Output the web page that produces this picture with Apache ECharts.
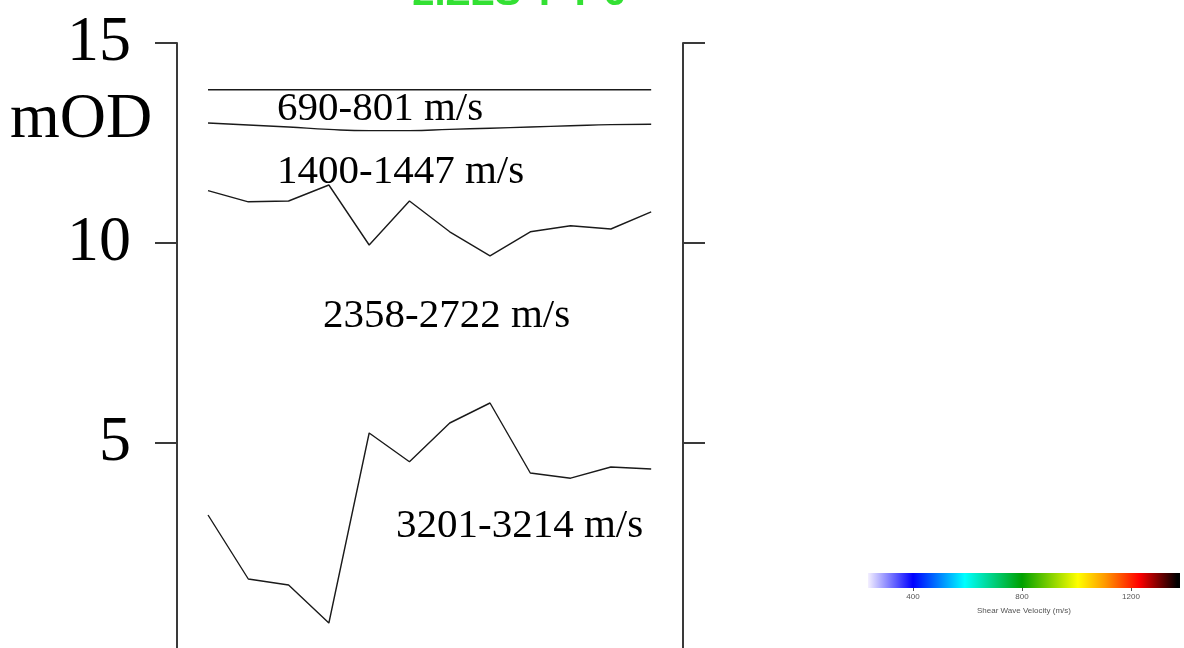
<!DOCTYPE html>
<html>
<head>
<meta charset="utf-8">
<script src="https://cdn.jsdelivr.net/npm/echarts@6/dist/echarts.min.js"></script>
<style>
html,body{margin:0;padding:0;background:#fff;}
#c{width:1184px;height:648px;}
</style>
</head>
<body>
<div id="c"></div>
<script>
// ---- data ----
var stations = [1, 2, 3, 4, 5, 6, 7, 8, 9, 10, 11, 12];
var boundary1 = [13.83, 13.83, 13.83, 13.83, 13.83, 13.83, 13.83, 13.83, 13.83, 13.83, 13.83, 13.83];
var boundary2 = [13.0, 12.95, 12.9, 12.84, 12.81, 12.81, 12.84, 12.87, 12.9, 12.93, 12.96, 12.97];
var boundary3 = [11.31, 11.03, 11.05, 11.45, 9.95, 11.05, 10.28, 9.68, 10.28, 10.43, 10.35, 10.78];
var boundary4 = [3.2, 1.6, 1.45, 0.5, 5.25, 4.53, 5.5, 6.0, 4.25, 4.12, 4.4, 4.35];
var elevTicks = [5, 10, 15];
var elevUnit = 'mOD';
var layerLabels = ['690-801 m/s', '1400-1447 m/s', '2358-2722 m/s', '3201-3214 m/s'];
var titleText = '2.ZLS T T 6';
var cbValues = [235, 400, 590, 800, 1005, 1105, 1230, 1370, 1380];
var cbColors = ['#f4f0ff', '#0000ff', '#00ffff', '#00a000', '#ffff00', '#ff9900', '#ff0000', '#000000', '#000000'];
var cbTicks = [400, 800, 1200];
var cbTitle = 'Shear Wave Velocity (m/s)';

function pairs(arr) { return stations.map(function (s, i) { return [s, arr[i]]; }); }

var cbMin = cbValues[0], cbMax = cbValues[cbValues.length - 1];
var stops = cbValues.map(function (v, i) {
  return { offset: (v - cbMin) / (cbMax - cbMin), color: cbColors[i] };
});

var serif = '"Liberation Serif", "DejaVu Serif", serif';
var sans = '"Liberation Sans", Arial, sans-serif';
var lineStyle = { color: '#1a1a1a', width: 1.4 };

function boundarySeries(arr, smooth) {
  return {
    type: 'line', xAxisIndex: 0, yAxisIndex: 0, data: pairs(arr),
    symbol: 'none', smooth: smooth ? 0.5 : false, lineStyle: lineStyle, silent: true,
    animation: false
  };
}

var axisCommon = {
  gridIndex: 0, type: 'value', min: -0.125, max: 15,
  splitLine: { show: false },
  axisLine: { show: true, lineStyle: { color: '#3a3a3a', width: 2 } },
  axisTick: { show: true, inside: false, length: 22, customValues: elevTicks, lineStyle: { color: '#3a3a3a', width: 2 } }
};

var chart = echarts.init(document.getElementById('c'), null, { renderer: 'canvas' });
chart.setOption({
  backgroundColor: '#ffffff',
  animation: false,
  grid: [
    { left: 177, width: 506, top: 43, height: 605 },
    { left: 868, width: 312, top: 573, height: 15 }
  ],
  xAxis: [
    { gridIndex: 0, type: 'value', min: 0.23, max: 12.79, show: false },
    {
      gridIndex: 1, type: 'value', min: cbMin, max: cbMax,
      axisLine: { show: false },
      splitLine: { show: false },
      axisTick: { show: true, length: 3, customValues: cbTicks, lineStyle: { color: '#555' } },
      axisLabel: { customValues: cbTicks, fontSize: 8, color: '#555', margin: 5, fontFamily: sans,
        formatter: function (v) { return String(v); } },
      name: cbTitle, nameLocation: 'middle', nameGap: 19,
      nameTextStyle: { fontSize: 8, color: '#555', fontFamily: sans }
    }
  ],
  yAxis: [
    Object.assign({}, axisCommon, {
      position: 'left',
      axisLabel: { customValues: elevTicks, fontSize: 64, fontFamily: serif, color: '#000', margin: 46 }
    }),
    Object.assign({}, axisCommon, {
      position: 'right',
      axisLabel: { show: false }
    }),
    { gridIndex: 1, type: 'value', min: 0, max: 1, show: false }
  ],
  series: [
    boundarySeries(boundary1, false),
    boundarySeries(boundary2, true),
    boundarySeries(boundary3, false),
    boundarySeries(boundary4, false),
    {
      type: 'custom', xAxisIndex: 1, yAxisIndex: 2, silent: true, animation: false,
      data: [[cbMin, cbMax]],
      renderItem: function (params, api) {
        var p0 = api.coord([api.value(0), 0]);
        var p1 = api.coord([api.value(1), 1]);
        return {
          type: 'rect',
          shape: { x: p0[0], y: p1[1], width: p1[0] - p0[0], height: p0[1] - p1[1] },
          style: { fill: new echarts.graphic.LinearGradient(0, 0, 1, 0, stops) }
        };
      }
    }
  ],
  graphic: [
    { type: 'text', left: 10, top: 88, style: { text: elevUnit, font: '64px ' + serif, fill: '#000' } },
    { type: 'text', x: 277, y: 109, style: { text: layerLabels[0], font: '41px ' + serif, fill: '#000', verticalAlign: 'middle' } },
    { type: 'text', x: 277, y: 172, style: { text: layerLabels[1], font: '41px ' + serif, fill: '#000', verticalAlign: 'middle' } },
    { type: 'text', x: 323, y: 316, style: { text: layerLabels[2], font: '41px ' + serif, fill: '#000', verticalAlign: 'middle' } },
    { type: 'text', x: 396, y: 526, style: { text: layerLabels[3], font: '41px ' + serif, fill: '#000', verticalAlign: 'middle' } },
    { type: 'text', x: 519, y: 14, style: { text: titleText, font: 'bold 40px ' + sans, fill: '#33e033', align: 'center', verticalAlign: 'bottom' } }
  ]
});
</script>
</body>
</html>
